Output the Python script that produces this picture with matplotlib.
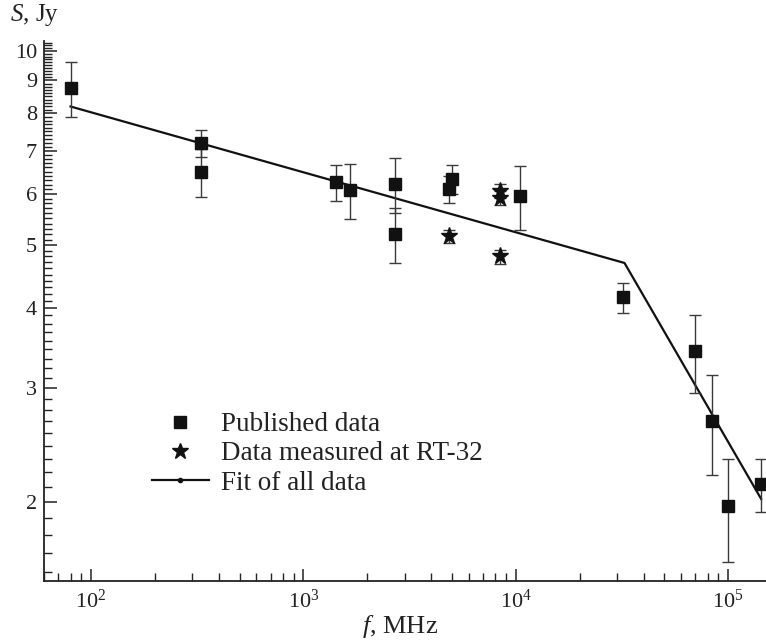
import numpy as np
import matplotlib
matplotlib.use('Agg')
import matplotlib.pyplot as plt
from matplotlib.lines import Line2D
from matplotlib.ticker import FixedLocator, FuncFormatter, NullFormatter

plt.rcParams['font.family'] = 'Liberation Serif'
plt.rcParams['mathtext.fontset'] = 'custom'
plt.rcParams['mathtext.rm'] = 'Liberation Serif'
plt.rcParams['mathtext.it'] = 'Liberation Serif:italic'

#%% Data

# published data (squares)
pub_f = [80, 330, 330, 1420, 1660, 2700, 2700, 4850, 5000, 10500, 32000, 70000, 84000, 100000, 143000]
pub_S = [8.76, 7.19, 6.49, 6.26, 6.08, 6.21, 5.20, 6.10, 6.33, 5.96, 4.15, 3.42, 2.67, 1.97, 2.13]
pub_err = [0.85, 0.35, 0.55, 0.40, 0.60, 0.61, 0.51, 0.30, 0.33, 0.68, 0.22, 0.47, 0.47, 0.36, 0.20]

# RT-32 measurements (stars)
rt_f = [4850, 8400, 8400, 8400]
rt_S = [5.16, 4.80, 6.06, 5.92]
rt_err = [0.12, 0.12, 0.15, 0.15]

# broken power-law fit
fit_f = [80, 32500, 143000]
fit_S = [8.2, 4.69, 2.02]

y_major = [2, 3, 4, 5, 6, 7, 8, 9, 10]
x_major = [1e2, 1e3, 1e4, 1e5]

#%% Plot
fig = plt.figure(figsize=(7.66, 6.44), dpi=100)
ax = fig.add_axes([44/766, 1 - 581/644, 1 - 44/766, (581 - 41)/644])

ax.plot(fit_f, fit_S, color='#111111', lw=1.6, zorder=2)

ax.errorbar(pub_f, pub_S, yerr=pub_err, fmt='s', color='#111111', ms=9,
            ecolor='#3a3a3a', elinewidth=1.0, capsize=4.5, capthick=1.0, zorder=3)
ax.errorbar(rt_f, rt_S, yerr=rt_err, fmt='*', color='#111111', ms=12.5,
            ecolor='#3a3a3a', elinewidth=1.0, capsize=4.5, capthick=1.0, zorder=4)

ax.set_xscale('log')
ax.set_yscale('log')
ax.set_xlim(60, 1.507e5)
ax.set_ylim(1.507, 10.36)

for s in ['top', 'right']:
    ax.spines[s].set_visible(False)
for s in ['left', 'bottom']:
    ax.spines[s].set_linewidth(1.3)
    ax.spines[s].set_color('#222222')

# y ticks
y_minor = list(2 - np.arange(1, 5) / 9) + list(2 + np.arange(1, 9) / 9) \
    + list(3 + np.arange(1, 9) / 9) + [v for v in np.arange(4.1, 10.35, 0.1)
                                       if abs(v - round(v)) > 0.01]
ax.yaxis.set_major_locator(FixedLocator(y_major))
ax.yaxis.set_minor_locator(FixedLocator(y_minor))
ax.yaxis.set_major_formatter(FuncFormatter(lambda v, p: '%d' % round(v)))
ax.yaxis.set_minor_formatter(NullFormatter())

# x ticks
ax.xaxis.set_major_locator(FixedLocator(x_major))
ax.xaxis.set_major_formatter(FuncFormatter(
    lambda v, p: r'$\mathregular{10^{%d}}$' % round(np.log10(v))))
x_minor = [m * 10**e for e in range(1, 6) for m in range(2, 10)]
ax.xaxis.set_minor_locator(FixedLocator(x_minor))
ax.xaxis.set_minor_formatter(NullFormatter())

ax.tick_params(which='both', direction='in', color='#222222', labelsize=16,
               labelcolor='#222222')
ax.tick_params(which='major', length=9, width=1.1)
ax.tick_params(which='minor', length=5.5, width=1.0)
ax.tick_params(axis='y', pad=5)
ax.tick_params(axis='x', pad=6)

fig.text(10/766, 1 - 15/644, r'$\mathit{S}$, Jy', fontsize=18, va='center',
         ha='left', color='#222222')
fig.text(400/766, 1 - 627/644, r'$\mathit{f}$, MHz', fontsize=19, va='center',
         ha='center', color='#222222')

handles = [
    Line2D([], [], ls='none', marker='s', color='#111111', ms=8.5),
    Line2D([], [], ls='none', marker='*', color='#111111', ms=12),
    Line2D([], [], color='#111111', lw=1.6, marker='o', ms=3),
]
labels = ['Published data', 'Data measured at RT-32', 'Fit of all data']
leg = ax.legend(handles, labels, loc='upper left',
                bbox_to_anchor=(152/766, 1 - 412/644),
                bbox_transform=fig.transFigure, frameon=False, fontsize=19.5,
                handlelength=2.1, handletextpad=0.45, labelspacing=0.16,
                borderpad=0, borderaxespad=0)
for t in leg.get_texts():
    t.set_color('#222222')

fig.savefig('out.png', dpi=100)
